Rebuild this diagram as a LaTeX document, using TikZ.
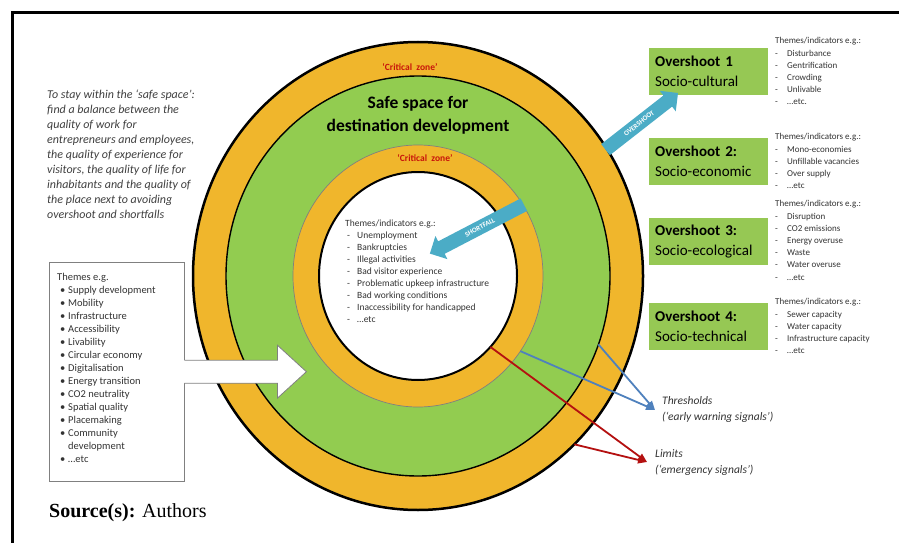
\documentclass[tikz,border=0pt]{standalone}
\usepackage{fontspec}
\setmainfont{Carlito}
\newfontfamily\timesfont{Liberation Serif}
\usetikzlibrary{arrows.meta,calc,positioning,shapes.arrows}

\definecolor{ringorange}{RGB}{240,182,44}
\definecolor{safegreen}{RGB}{146,204,80}
\definecolor{boxgreen}{RGB}{150,200,84}
\definecolor{signalblue}{RGB}{79,129,189}
\definecolor{signalred}{RGB}{180,16,16}
\definecolor{zonered}{RGB}{200,20,10}
\definecolor{flowteal}{RGB}{75,172,198}

\newcommand{\dashitem}[1]{\makebox[12pt][l]{-}#1}
\newcommand{\bulitem}[1]{\hspace{3pt}\makebox[8pt][l]{\textbullet}#1}

\begin{document}
\begin{tikzpicture}[
    x=1pt, y=-1pt,
    >=Stealth,
    % Define styles
    overbox/.style={rectangle, fill=boxgreen, text width=107pt, align=left, inner xsep=6pt, inner ysep=0pt, minimum height=47pt, anchor=north west, font=\fontsize{15}{20}\selectfont},
    indlist/.style={anchor=north west, inner sep=0pt, align=left, font=\fontsize{9}{12.2}\selectfont, text=black!80},
    flow/.style={single arrow, fill=flowteal, text=white, font=\fontsize{7}{7}\selectfont\bfseries, inner xsep=1pt, inner ysep=4.5pt, single arrow head extend=6pt, single arrow head indent=0pt},
    zone/.style={text=zonered, font=\fontsize{9.5}{10}\selectfont\bfseries},
    signal/.style={-{Triangle[length=9pt,width=7pt]}, line width=1.8pt},
    signaltext/.style={anchor=north west, inner sep=0pt, align=left, font=\fontsize{11.5}{16}\selectfont\itshape, text=black!80}
]

% Canvas and frame
\useasboundingbox (0,0) rectangle (899,543);
\fill[white] (0,0) rectangle (899,543);
\draw[line width=3pt] (12,543) -- (12,12.5) -- (899,12.5);

% Rings
\coordinate (C) at (418,276);
\filldraw[fill=ringorange, draw=black, line width=2.5pt] (C) ellipse[x radius=225pt, y radius=234pt];
\filldraw[fill=safegreen, draw=black, line width=1.4pt] (C) ellipse[x radius=192pt, y radius=200pt];
\filldraw[fill=ringorange, draw=gray, line width=0.7pt] (C) ellipse[x radius=125pt, y radius=131pt];
\filldraw[fill=white, draw=black, line width=2pt] (C) ellipse[x radius=99pt, y radius=104pt];

% Ring labels
\node[zone] (outerzone) at (410,67) {‘Critical\ \ zone’};
\node[align=center, font=\fontsize{17.5}{23}\selectfont\bfseries] (safe) at (418,115) {Safe space for\\destination development};
\node[zone] (innerzone) at (425,158) {‘Critical\ \ zone’};

% Shortfall indicators
\node[indlist, font=\fontsize{9.5}{12}\selectfont] (shortlist) at (345,220) {Themes/indicators e.g.:\\
\hspace{2pt}\makebox[10pt][l]{-}Unemployment\\
\hspace{2pt}\makebox[10pt][l]{-}Bankruptcies\\
\hspace{2pt}\makebox[10pt][l]{-}Illegal activities\\
\hspace{2pt}\makebox[10pt][l]{-}Bad visitor experience\\
\hspace{2pt}\makebox[10pt][l]{-}Problematic upkeep infrastructure\\
\hspace{2pt}\makebox[10pt][l]{-}Bad working conditions\\
\hspace{2pt}\makebox[10pt][l]{-}Inaccessibility for handicapped\\
\hspace{2pt}\makebox[10pt][l]{-}…etc};

% Left explanation
\node[anchor=north west, inner sep=0pt, align=left, font=\fontsize{12}{15}\selectfont\itshape, text=black!75] (balance) at (47,90) {To stay within the ‘safe space’:\\
find a balance between the\\
quality of work for\\
entrepreneurs and employees,\\
the quality of experience for\\
visitors, the quality of life for\\
inhabitants and the quality of\\
the place next to avoiding\\
overshoot and shortfalls};

% Themes box and input arrow
\node[draw=gray, minimum width=135pt, minimum height=219pt, anchor=north west, fill=white] (themes) at (49,262) {};
\node[anchor=north west, inner sep=0pt, align=left, font=\fontsize{10.5}{13}\selectfont, text=black!80] (themelist) at (57,273) {Themes e.g.\\
\bulitem{Supply development}\\
\bulitem{Mobility}\\
\bulitem{Infrastructure}\\
\bulitem{Accessibility}\\
\bulitem{Livability}\\
\bulitem{Circular economy}\\
\bulitem{Digitalisation}\\
\bulitem{Energy transition}\\
\bulitem{CO2 neutrality}\\
\bulitem{Spatial quality}\\
\bulitem{Placemaking}\\
\bulitem{Community}\\
\hspace{11pt}development\\
\bulitem{…etc}};
\coordinate (wa) at (themes.east);
\fill[white] ($(wa)+(-1,-11.5)$) -- ($(wa)+(93,-11.5)$) -- ($(wa)+(93,-26.5)$) -- ($(wa)+(122,0)$)
    -- ($(wa)+(93,26.5)$) -- ($(wa)+(93,11.5)$) -- ($(wa)+(-1,11.5)$) -- cycle;
\draw[gray, line width=0.8pt] ($(wa)+(0,-11.5)$) -- ($(wa)+(93,-11.5)$) -- ($(wa)+(93,-26.5)$) -- ($(wa)+(122,0)$)
    -- ($(wa)+(93,26.5)$) -- ($(wa)+(93,11.5)$) -- ($(wa)+(0,11.5)$);

% Overshoot boxes
\node[overbox] (ov1) at (649,48) {\textbf{Overshoot 1}\\Socio-cultural};
\node[overbox] (ov2) at (649,138) {\textbf{Overshoot 2:}\\Socio-economic};
\node[overbox] (ov3) at (649,218) {\textbf{Overshoot 3:}\\Socio-ecological};
\node[overbox] (ov4) at (649,303) {\textbf{Overshoot 4:}\\Socio-technical};

% Overshoot indicators
\node[indlist] (list1) at (775,37.5) {Themes/indicators e.g.:\\\dashitem{Disturbance}\\\dashitem{Gentrification}\\\dashitem{Crowding}\\\dashitem{Unlivable}\\\dashitem{…etc.}};
\node[indlist] (list2) at (775,133.5) {Themes/indicators e.g.:\\\dashitem{Mono-economies}\\\dashitem{Unfillable vacancies}\\\dashitem{Over supply}\\\dashitem{…etc}};
\node[indlist] (list3) at (775,200.5) {Themes/indicators e.g.:\\\dashitem{Disruption}\\\dashitem{CO2 emissions}\\\dashitem{Energy overuse}\\\dashitem{Waste}\\\dashitem{Water overuse}\\\dashitem{…etc}};
\node[indlist] (list4) at (775,298.5) {Themes/indicators e.g.:\\\dashitem{Sewer capacity}\\\dashitem{Water capacity}\\\dashitem{Infrastructure capacity}\\\dashitem{…etc}};

% Overshoot and shortfall arrows
\node[flow, rotate=38, minimum height=92pt] (overshoot) at (639,123.5) {OVERSHOOT};
\node[flow, rotate=27.5, shape border rotate=180, minimum height=106pt] (shortfall) at (480,227.5) {SHORTFALL};

% Signal labels
\node[signaltext] (thresh) at (662,396) {Thresholds\\(‘early warning signals’)};
\node[signaltext] (limits) at (655,449) {Limits\\(‘emergency signals’)};
\coordinate (threshtip) at (655,410);
\coordinate (limitstip) at (647,462);

% Threshold and limit lines
\coordinate (b1) at ($(C)+({125*cos(35)},{131*sin(35)})$);
\coordinate (b2) at ($(C)+({192*cos(20)},{200*sin(20)})$);
\coordinate (r1) at ($(C)+({99*cos(43)},{104*sin(43)})$);
\coordinate (r2) at ($(C)+({225*cos(46)},{234*sin(46)})$);
\draw[signal, signalblue] (b1) -- (threshtip);
\draw[signal, signalblue] (b2) -- (threshtip);
\draw[signal, signalred] (r1) -- (limitstip);
\draw[signal, signalred] (r2) -- (limitstip);

% Source
\node[anchor=base west, inner sep=0pt, font=\timesfont\fontsize{20}{24}\selectfont] (source) at (49,517) {\textbf{Source(s):} Authors};

\end{tikzpicture}
\end{document}
